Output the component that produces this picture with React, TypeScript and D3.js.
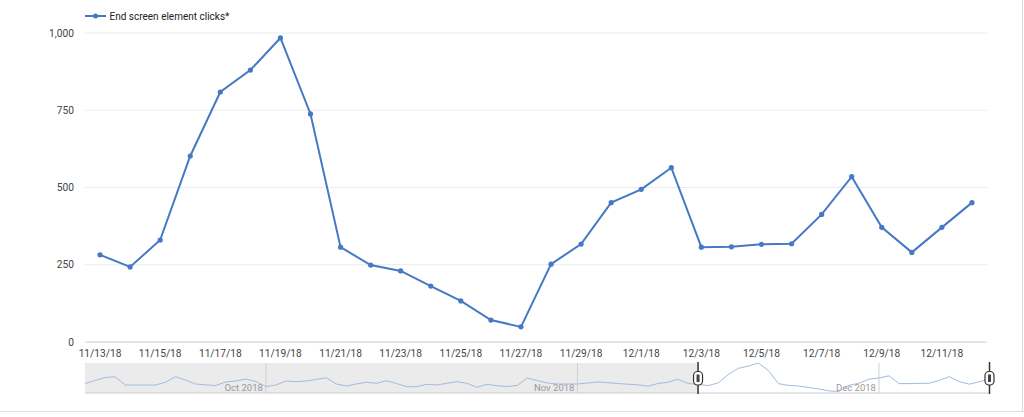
import React from 'react'
import { scalePoint, scaleLinear, line, max } from 'd3'

const dates = [
  '11/13/18', '11/14/18', '11/15/18', '11/16/18', '11/17/18', '11/18/18', '11/19/18', '11/20/18',
  '11/21/18', '11/22/18', '11/23/18', '11/24/18', '11/25/18', '11/26/18', '11/27/18', '11/28/18',
  '11/29/18', '11/30/18', '12/1/18', '12/2/18', '12/3/18', '12/4/18', '12/5/18', '12/6/18',
  '12/7/18', '12/8/18', '12/9/18', '12/10/18', '12/11/18', '12/12/18',
]
const clicks = [
  282, 243, 330, 602, 809, 880, 984, 738, 307, 249, 230, 181, 133, 71, 49, 252,
  317, 451, 494, 564, 307, 308, 316, 318, 413, 535, 371, 290, 371, 451,
]
// sep 13 - nov 12, only seen in the navigator strip
const earlierClicks = [
  311, 410, 508, 531, 262, 262, 262, 262, 351, 534, 426, 295, 269, 246, 361, 393,
  459, 377, 213, 262, 393, 370, 393, 443, 502, 295, 230, 295, 351, 318, 403, 311,
  207, 207, 285, 262, 318, 370, 318, 187, 285, 239, 213, 246, 492, 410, 328, 295,
  295, 295, 328, 361, 338, 311, 289, 269, 223, 311, 351, 449, 311,
]
const yTicks = [0, 250, 500, 750, 1000]
const months = [
  { label: 'Oct 2018', day: 18 },
  { label: 'Nov 2018', day: 49 },
  { label: 'Dec 2018', day: 79 },
]
const seriesName = 'End screen element clicks*'

const W = 1024
const H = 417
const FONT = 'Roboto, Arial, sans-serif'
const BLUE = '#4679c3'
const AXIS_FS = 10.2

export default function App() {
  const left = 85
  const right = 987
  const top = 33
  const bottom = 342

  const x = scalePoint<string>().domain(dates).range([left, right]).padding(0.5)
  const y = scaleLinear().domain([0, 1000]).range([bottom, top])

  const path = line<number>()
    .x((d, i) => x(dates[i]) as number)
    .y(d => y(d))

  // navigator
  const all = earlierClicks.concat(clicks)
  const navTop = 363
  const navBottom = 393
  const nx = scaleLinear().domain([0, all.length - 1]).range([left, 989.5])
  const ny = scaleLinear().domain([0, max(all) as number]).range([navBottom, navTop])
  const navPath = line<number>()
    .x((d, i) => nx(i))
    .y(d => ny(d))
  const selStart = nx(earlierClicks.length)
  const selEnd = nx(all.length - 1)

  const handle = (hx: number) => (
    <g key={hx}>
      <line x1={hx} x2={hx} y1={navTop - 1} y2={navBottom + 1} stroke="#333" strokeWidth={1.5} />
      <rect x={hx - 4.5} y={371.5} width={9} height={13.5} rx={4} fill="#fff" stroke="#333" strokeWidth={1.2} />
      <rect x={hx - 1.5} y={374.5} width={3} height={7.5} fill="#444" />
    </g>
  )

  return (
    <div style={{ position: 'absolute', left: 0, top: 0 }}>
      <svg width={W} height={H} style={{ display: 'block', fontFamily: FONT }}>
        <rect width={W} height={H} fill="#fff" />

        {/* legend */}
        <line x1={85} x2={106} y1={16} y2={16} stroke={BLUE} strokeWidth={2} />
        <circle cx={95.5} cy={16} r={2.5} fill={BLUE} />
        <text x={109.5} y={16} dy="0.35em" fontSize={10} fill="#222">{seriesName}</text>

        {/* grid + y axis */}
        {yTicks.map(t => (
          <g key={t}>
            <line x1={left} x2={right} y1={y(t)} y2={y(t)} stroke={t === 0 ? '#ccc' : '#ebebeb'} strokeWidth={1} />
            <text x={74} y={y(t)} dy="0.35em" textAnchor="end" fontSize={AXIS_FS} fill="#444">
              {t.toLocaleString('en-US')}
            </text>
          </g>
        ))}

        {/* x labels, every other day */}
        {dates.filter((d, i) => i % 2 === 0).map(d => (
          <text key={d} x={x(d)} y={353} dy="0.35em" textAnchor="middle" fontSize={AXIS_FS} fill="#444">{d}</text>
        ))}

        <path d={path(clicks) || ''} fill="none" stroke={BLUE} strokeWidth={2} />
        {clicks.map((v, i) => (
          <circle key={i} cx={x(dates[i])} cy={y(v)} r={2.6} fill={BLUE} />
        ))}

        {/* navigator */}
        <rect x={left} y={navTop} width={selStart - left} height={navBottom - navTop} fill="#ebebeb" />
        <line x1={left} x2={selEnd} y1={navBottom} y2={navBottom} stroke="#ccc" />
        {months.map(m => (
          <g key={m.label}>
            <line x1={nx(m.day)} x2={nx(m.day)} y1={navTop} y2={navBottom} stroke="#d0d0d0" />
            <text x={nx(m.day) - 3} y={388} dy="0.3em" textAnchor="end" fontSize={9.5} fill="#9a9a9a">{m.label}</text>
          </g>
        ))}
        <path d={navPath(all) || ''} fill="none" stroke="#a2bbe0" strokeWidth={1} />
        {handle(selStart)}
        {handle(selEnd)}

        {/* card border */}
        <line x1={0} x2={W} y1={411.5} y2={411.5} stroke="#ddd" />
        <line x1={1022.5} x2={1022.5} y1={0} y2={411.5} stroke="#ddd" />
      </svg>
    </div>
  )
}
